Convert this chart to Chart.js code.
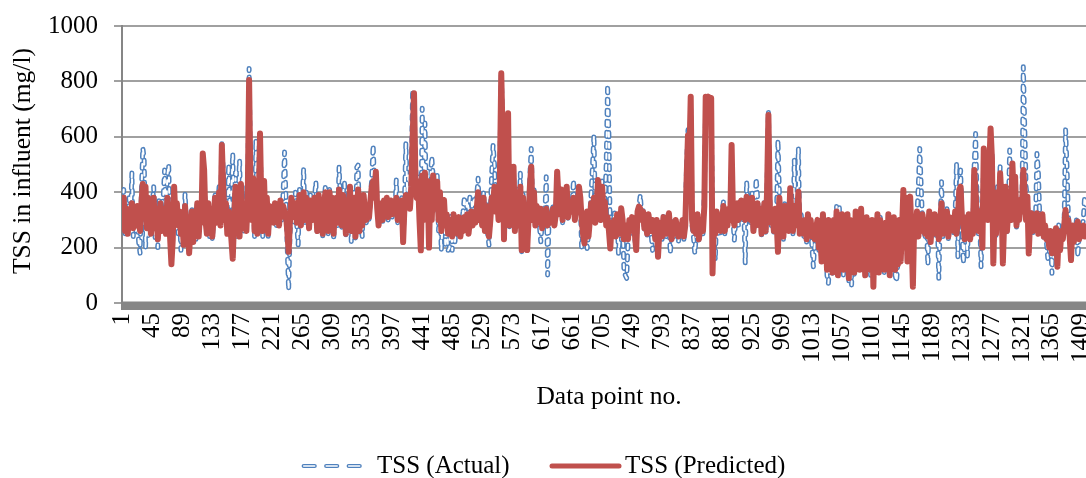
<!DOCTYPE html>
<html>
<head>
<meta charset="utf-8">
<title>TSS in influent</title>
<script src="https://cdn.jsdelivr.net/npm/chart.js@4.4.1/dist/chart.umd.min.js"></script>
<style>
  html, body { margin: 0; padding: 0; background: #fff; }
  #wrap { width: 1086px; height: 478px; }
</style>
</head>
<body>
<div id="wrap"><canvas id="tss" width="1086" height="478"></canvas></div>
<script>
const SERIES_NAMES = ['TSS (Actual)', 'TSS (Predicted)'];
const X_TITLE = 'Data point no.';
const Y_TITLE = 'TSS in influent (mg/l)';
const X_TICKS = [1, 45, 89, 133, 177, 221, 265, 309, 353, 397, 441, 485, 529, 573, 617, 661, 705,
                 749, 793, 837, 881, 925, 969, 1013, 1057, 1101, 1145, 1189, 1233, 1277, 1321, 1365, 1409];

// every second data point, starting at no. 1
const ACTUAL = [
  320,410,250,330,260,380,300,470,240,330, 260,300,220,180,400,560,520,200,350,240,
  300,260,350,420,230,320,200,380,280,350, 380,480,300,460,500,260,220,300,350,280,
  330,250,320,190,280,240,395,300,260,220, 270,340,240,310,230,370,260,300,330,420,
  430,330,260,350,240,320,230,300,400,300, 350,420,300,575,480,330,380,260,500,300,
  400,540,250,450,230,380,515,300,420,260, 350,270,390,847,480,310,420,240,590,280,
  320,590,380,240,420,260,360,240,330,290, 320,300,350,280,330,290,370,300,400,545,
  380,200,47,250,330,360,290,400,280,210, 410,300,370,485,290,400,340,260,390,320,
  320,380,438,250,370,300,360,240,350,425, 390,250,410,300,380,227,330,360,280,490,
  380,270,400,432,240,360,290,410,215,330, 400,230,490,498,250,360,240,380,330,290,
  330,300,380,450,570,420,460,350,290,320, 350,290,360,330,370,300,340,360,310,350,
  330,444,290,350,340,380,233,360,576,400, 470,400,480,769,720,500,420,460,330,250,
  703,380,650,360,480,260,450,528,456,350, 400,460,260,380,190,300,350,200,300,190,
  200,312,190,300,220,280,260,300,250,290, 330,384,300,370,340,384,380,320,384,350,
  384,450,320,380,280,400,300,360,250,209, 330,470,570,500,360,400,320,500,830,640,
  280,520,430,650,270,460,320,480,300,420, 380,300,468,185,400,240,360,210,320,460,
  558,320,420,290,360,300,280,221,290,340, 320,456,101,300,280,330,350,300,310,440,
  400,340,402,290,380,320,400,300,380,330, 350,444,310,370,330,400,360,197,260,230,
  260,197,250,320,400,500,606,310,330,430, 420,290,440,330,360,500,787,600,220,280,
  280,330,250,324,179,240,330,290,120,100, 89,220,290,240,300,260,230,200,330,350,
  390,320,340,260,290,240,300,270,250,190, 240,210,290,190,250,280,230,312,260,240,
  280,300,179,250,300,240,280,260,220,270, 250,290,230,300,500,625,480,700,280,240,
  179,240,300,220,260,290,250,400,720,650, 700,680,690,300,250,155,320,240,280,250,
  320,366,250,330,290,340,310,420,300,227, 300,340,280,330,360,300,330,143,438,340,
  370,290,400,250,340,450,380,280,330,240, 290,370,250,420,690,380,280,310,250,330,
  320,588,400,250,340,230,360,270,300,250, 400,310,250,516,300,340,558,260,320,270,
  240,290,220,310,250,280,200,131,220,260, 280,190,260,150,310,170,250,100,71,150,
  240,100,290,150,348,120,354,130,300,95, 270,120,300,80,290,65,250,100,306,150,
  290,130,320,150,270,110,300,130,250,100, 280,90,260,140,318,120,310,140,260,110,
  280,140,300,110,260,160,290,100,77,150, 290,160,250,380,220,360,170,310,360,240,
  150,280,250,320,420,558,430,300,260,240, 280,137,310,230,290,250,300,240,300,89,
  290,438,240,330,260,340,230,300,260,290, 250,320,504,167,400,480,290,143,220,300,
  170,310,240,290,260,500,612,380,250,310, 131,300,522,460,500,320,460,600,540,180,
  340,240,420,310,492,370,180,310,400,250, 320,552,290,500,370,450,270,360,310,360,
  320,853,640,420,380,240,310,330,250,290, 300,540,480,320,250,300,230,270,220,161,
  170,250,107,230,200,260,180,282,210,250, 240,300,625,500,320,250,200,270,230,250,
  300,167,250,290,260,300,384,350
];

const PREDICTED = [
  300,380,260,340,250,330,290,360,270,320, 280,350,300,260,360,430,310,420,270,380,
  330,250,310,380,270,340,230,300,360,260, 290,340,250,380,320,240,140,230,420,300,
  360,280,330,250,300,210,350,270,310,180, 260,330,220,300,280,360,240,320,290,540,
  480,300,250,360,270,330,240,310,380,290, 330,400,280,570,420,300,360,250,330,280,
  230,160,300,420,260,380,240,430,300,270, 330,260,380,805,420,300,450,260,380,250,
  330,612,350,260,440,280,380,250,350,300, 330,290,360,300,340,280,370,310,350,330,
  320,260,185,300,380,340,310,360,290,330, 390,280,360,400,300,380,350,270,370,330,
  300,380,340,260,390,320,370,250,360,400, 370,260,400,330,380,250,340,380,290,410,
  360,280,390,340,250,370,300,420,260,340, 380,240,300,410,260,350,280,390,330,300,
  340,310,370,420,440,380,474,340,280,330, 360,300,370,340,380,310,350,370,320,360,
  340,380,300,360,330,370,220,350,390,360, 380,340,420,600,757,460,380,440,300,190,
  460,300,470,350,440,200,420,300,460,340, 380,438,300,400,260,350,372,280,320,250,
  270,300,240,320,260,290,250,310,240,280, 260,310,280,320,250,300,330,280,310,290,
  340,400,300,360,280,380,260,350,300,240, 300,380,360,420,330,380,300,450,829,600,
  230,500,400,685,280,450,300,492,260,400, 350,280,420,191,380,220,340,191,300,420,
  492,300,400,280,350,320,290,340,270,330, 300,340,280,320,290,310,340,280,320,474,
  380,320,410,300,390,330,420,310,366,340, 330,380,300,360,340,420,380,300,250,215,
  280,330,240,300,360,320,380,290,340,444, 400,300,420,340,366,280,310,260,197,290,
  260,300,240,320,280,250,342,300,230,270, 280,230,300,260,310,280,250,191,330,348,
  340,300,330,270,300,250,320,280,260,300, 280,230,300,167,260,290,240,310,270,250,
  300,324,260,230,290,250,300,270,240,280, 260,300,240,280,450,606,520,745,300,260,
  300,250,320,230,280,300,260,350,745,700, 745,720,740,107,300,250,330,280,300,260,
  300,350,260,320,280,340,300,570,320,280, 320,360,300,340,370,310,350,300,384,330,
  350,300,380,260,330,280,360,300,340,250, 300,360,260,400,679,350,290,320,260,340,
  300,185,380,260,330,240,350,280,310,260, 414,300,260,350,280,320,402,250,300,280,
  250,300,230,320,260,300,240,280,230,270, 300,200,280,150,320,180,260,120,300,160,
  250,110,300,150,330,100,280,140,320,120, 280,130,320,90,300,150,260,110,330,160,
  300,120,340,160,280,100,310,140,260,120, 300,59,280,130,320,110,300,150,270,120,
  290,130,320,100,270,150,310,120,280,140, 300,150,260,408,200,380,150,330,384,250,
  59,300,250,330,240,300,260,320,280,250, 300,240,330,220,300,260,320,250,280,230,
  300,360,250,320,270,330,240,310,270,300, 260,330,250,300,408,420,300,288,230,310,
  260,320,230,300,250,480,400,300,260,330, 300,200,558,450,540,300,480,630,520,143,
  330,250,400,300,468,380,143,300,420,260, 330,400,300,504,380,456,280,372,300,372,
  330,480,400,300,384,179,300,324,260,300, 280,324,250,300,260,320,240,280,230,260,
  200,260,180,240,210,270,131,250,190,260, 230,280,336,260,300,240,155,280,220,260,
  280,294,230,270,250,280,240,260
];

const POINT_NO = ACTUAL.map((v, i) => 1 + 2 * i);

const FONT = "'Liberation Serif', 'Times New Roman', serif";
const BLUE = '#4F81BD';
const RED = '#C0504D';
const AXIS_GREY = '#868686';

// thick grey band along the category axis
const axisBand = {
  id: 'axisBand',
  afterDatasetsDraw(chart) {
    const { ctx, chartArea } = chart;
    ctx.save();
    ctx.fillStyle = AXIS_GREY;
    ctx.fillRect(chartArea.left - 1, chartArea.bottom - 1.5, chartArea.right - chartArea.left + 1, 8.5);
    ctx.restore();
  }
};

// axis titles and legend
const captions = {
  id: 'captions',
  afterDraw(chart) {
    const ctx = chart.ctx;
    ctx.save();
    ctx.fillStyle = '#000';
    ctx.font = '25.5px ' + FONT;
    ctx.textAlign = 'center';
    ctx.textBaseline = 'middle';
    ctx.fillText(X_TITLE, 609, 397);

    ctx.save();
    ctx.translate(23, 161);
    ctx.rotate(-Math.PI / 2);
    ctx.fillText(Y_TITLE, 0, 0);
    ctx.restore();

    const y = 466;
    ctx.lineCap = 'round';
    ctx.setLineDash([11, 11.5]);
    ctx.beginPath();
    ctx.moveTo(303.7, y);
    ctx.lineTo(359.7, y);
    ctx.strokeStyle = BLUE;
    ctx.lineWidth = 4.2;
    ctx.stroke();
    ctx.strokeStyle = '#fff';
    ctx.lineWidth = 1.5;
    ctx.stroke();

    ctx.setLineDash([]);
    ctx.beginPath();
    ctx.moveTo(552, y);
    ctx.lineTo(619, y);
    ctx.strokeStyle = RED;
    ctx.lineWidth = 5;
    ctx.stroke();

    ctx.font = '25px ' + FONT;
    ctx.textAlign = 'left';
    ctx.fillText(SERIES_NAMES[0], 377, y);
    ctx.fillText(SERIES_NAMES[1], 625, y);
    ctx.restore();
  }
};

new Chart(document.getElementById('tss'), {
  type: 'line',
  data: {
    labels: POINT_NO,
    datasets: [
      {
        label: SERIES_NAMES[1],
        data: PREDICTED,
        borderColor: RED,
        borderWidth: 6,
        order: 0
      },
      {
        // white core of the hollow dashed line
        label: SERIES_NAMES[0],
        data: ACTUAL,
        borderColor: '#ffffff',
        borderWidth: 2,
        borderDash: [4.3, 6.7],
        order: 1
      },
      {
        label: SERIES_NAMES[0],
        data: ACTUAL,
        borderColor: BLUE,
        borderWidth: 5,
        borderDash: [4.3, 6.7],
        order: 2
      }
    ]
  },
  options: {
    responsive: false,
    animation: false,
    devicePixelRatio: 1,
    layout: { padding: { left: 0, right: 0, top: 26, bottom: 66 } },
    elements: {
      point: { radius: 0 },
      line: { tension: 0, fill: false, borderJoinStyle: 'round', borderCapStyle: 'round' }
    },
    plugins: {
      legend: { display: false },
      tooltip: { enabled: false }
    },
    scales: {
      x: {
        type: 'linear',
        min: 0.5,
        max: 1415,
        afterBuildTicks: (scale) => { scale.ticks = X_TICKS.map(v => ({ value: v })); },
        afterFit: (scale) => { scale.height = 109; scale.paddingLeft = 0; scale.paddingRight = 0; },
        grid: { display: false, drawTicks: false },
        border: { display: false },
        ticks: {
          autoSkip: false,
          minRotation: 90,
          maxRotation: 90,
          padding: 10,
          color: '#000',
          font: { family: FONT, size: 25 },
          callback: (v) => String(v)
        }
      },
      y: {
        min: 0,
        max: 1000,
        afterFit: (scale) => { scale.width = 122; scale.paddingTop = 0; scale.paddingBottom = 0; },
        grid: { color: '#A0A0A0', lineWidth: 2, drawTicks: true, tickLength: 8 },
        border: { display: true, color: AXIS_GREY, width: 2 },
        ticks: {
          stepSize: 200,
          padding: 16,
          color: '#000',
          font: { family: FONT, size: 25 },
          callback: (v) => String(v)
        }
      }
    }
  },
  plugins: [axisBand, captions]
});
</script>
</body>
</html>
